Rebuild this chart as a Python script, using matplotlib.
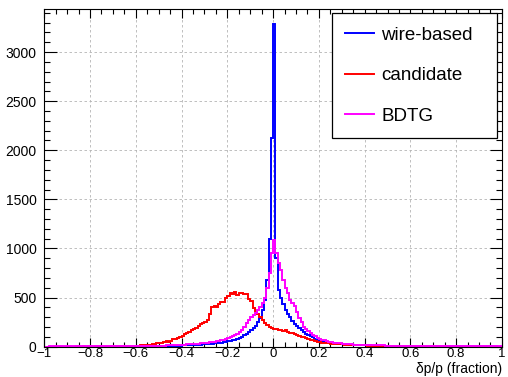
import numpy as np
import matplotlib
matplotlib.use("Agg")
from matplotlib import pyplot as plt
from matplotlib.ticker import MultipleLocator, FuncFormatter

plt.rcParams['font.family'] = ['Liberation Sans', 'DejaVu Sans']

# 200 bins from -1 to 1 (width 0.01)
edges = np.linspace(-1, 1, 201)

wire_based = [
    0, 0, 0, 0, 0, 0, 0, 0, 0, 0,
    0, 0, 0, 0, 0, 0, 0, 0, 0, 0,
    0, 1, 0, 0, 0, 1, 0, 0, 1, 0,
    1, 0, 1, 1, 0, 1, 1, 2, 1, 2,
    2, 2, 3, 2, 3, 3, 4, 3, 4, 5,
    5, 6, 6, 7, 8, 8, 9, 10, 11, 12,
    13, 14, 15, 16, 17, 18, 19, 21, 22, 24,
    25, 27, 29, 31, 33, 36, 39, 42, 46, 50,
    55, 60, 66, 72, 80, 90, 100, 115, 130, 150,
    170, 190, 215, 250, 290, 375, 475, 680, 1100, 2120,
    3290, 900, 580, 500, 430, 375, 330, 300, 260, 235,
    210, 190, 170, 150, 130, 115, 105, 95, 80, 70,
    62, 56, 52, 48, 44, 40, 38, 35, 32, 30,
    28, 26, 24, 22, 21, 20, 18, 17, 16, 15,
    14, 13, 13, 12, 11, 11, 10, 10, 9, 9,
    9, 8, 8, 8, 7, 7, 7, 6, 6, 6,
    6, 5, 6, 5, 5, 5, 4, 5, 4, 4,
    4, 4, 4, 3, 4, 3, 3, 3, 3, 3,
    3, 3, 3, 2, 3, 2, 3, 2, 2, 2,
    2, 2, 2, 2, 1, 2, 1, 2, 1, 1,
]

candidate = [
    0, 0, 1, 0, 0, 1, 0, 1, 1, 0,
    1, 1, 0, 1, 2, 1, 1, 2, 1, 2,
    2, 1, 3, 2, 2, 3, 2, 4, 3, 3,
    4, 3, 5, 4, 6, 5, 7, 6, 8, 9,
    10, 12, 14, 13, 17, 20, 22, 25, 30, 35,
    40, 38, 48, 55, 52, 62, 75, 82, 90, 100,
    110, 125, 140, 150, 165, 180, 195, 210, 228, 245,
    255, 275, 330, 400, 410, 405, 430, 455, 450, 500,
    520, 545, 540, 555, 525, 545, 550, 540, 535, 490,
    470, 390, 360, 330, 300, 270, 245, 225, 205, 195,
    185, 180, 175, 170, 160, 165, 150, 140, 135, 125,
    120, 110, 100, 95, 85, 80, 70, 65, 60, 50,
    45, 42, 40, 36, 35, 32, 30, 28, 27, 25,
    24, 22, 20, 21, 18, 17, 16, 15, 15, 14,
    13, 12, 12, 11, 10, 10, 9, 9, 8, 8,
    8, 7, 7, 6, 6, 6, 5, 5, 5, 4,
    4, 4, 4, 3, 3, 3, 3, 3, 2, 2,
    2, 2, 2, 2, 1, 2, 1, 1, 1, 1,
    1, 1, 1, 1, 1, 0, 1, 1, 0, 1,
    0, 1, 0, 0, 1, 0, 0, 1, 0, 0,
]

bdtg = [
    1, 1, 2, 1, 2, 1, 2, 2, 1, 2,
    2, 2, 1, 2, 2, 3, 2, 2, 3, 2,
    3, 2, 3, 3, 2, 3, 3, 3, 4, 3,
    3, 4, 4, 3, 4, 5, 4, 5, 5, 6,
    6, 7, 6, 7, 8, 8, 9, 9, 10, 10,
    11, 12, 12, 13, 14, 15, 16, 17, 18, 20,
    21, 22, 24, 25, 27, 28, 30, 32, 35, 37,
    40, 42, 45, 48, 52, 56, 60, 66, 72, 80,
    88, 96, 105, 115, 130, 150, 175, 205, 240, 275,
    300, 320, 340, 370, 400, 440, 500, 600, 750, 950,
    1085, 950, 850, 780, 680, 600, 545, 475, 440, 410,
    350, 290, 250, 205, 180, 155, 135, 115, 105, 90,
    80, 70, 64, 58, 52, 46, 42, 38, 35, 33,
    30, 28, 27, 25, 24, 22, 21, 20, 19, 18,
    17, 17, 16, 15, 15, 14, 14, 13, 13, 12,
    12, 11, 11, 11, 10, 10, 10, 9, 9, 9,
    9, 8, 8, 8, 8, 7, 7, 7, 7, 7,
    6, 6, 6, 6, 6, 5, 6, 5, 5, 5,
    5, 5, 5, 5, 4, 5, 4, 4, 4, 4,
    4, 4, 4, 3, 4, 3, 3, 3, 3, 3,
]

fig = plt.figure(figsize=(5.08, 3.77), dpi=100)
ax = fig.add_axes([0.0872, 0.0804, 0.988 - 0.0872, 0.9753 - 0.0804])

ax.stairs(wire_based, edges, color='#0000ff', lw=1.4, label='wire-based')
ax.stairs(candidate, edges, color='#ff0000', lw=1.4, label='candidate')
ax.stairs(bdtg, edges, color='#ff00ff', lw=1.4, label='BDTG')

ax.set_xlim(-1, 1)
ax.set_ylim(0, 3435)

ax.xaxis.set_major_locator(MultipleLocator(0.2))
ax.xaxis.set_minor_locator(MultipleLocator(0.05))
ax.yaxis.set_major_locator(MultipleLocator(500))
ax.yaxis.set_minor_locator(MultipleLocator(100))
ax.xaxis.set_major_formatter(FuncFormatter(lambda v, p: ('%g' % round(v, 2)).replace('-', '\u2212')))

ax.tick_params(which='both', direction='in', top=True, right=True, width=0.8)
ax.tick_params(axis='x', which='major', length=6.5, pad=1, labelsize=9.5)
ax.tick_params(axis='x', which='minor', length=3.5)
ax.tick_params(axis='y', which='major', length=9, pad=5.5, labelsize=10)
ax.tick_params(axis='y', which='minor', length=4.5)

ax.grid(True, which='major', color='#b4b4b4', lw=0.6, linestyle=(0, (3, 3)))
ax.set_axisbelow(True)

# legend box spans roughly x 0.625-0.987, top at 0.991 (axes fraction)
leg = ax.legend(loc='upper left', bbox_to_anchor=(0.628, 0.0, 0.362, 0.988),
                mode='expand', fontsize=13.5,
                frameon=True, fancybox=False, framealpha=1, edgecolor='black',
                handlelength=1.55, handletextpad=0.4, labelspacing=1.25,
                borderpad=0.7, borderaxespad=0)
leg.get_frame().set_linewidth(0.9)
for line in leg.get_lines():
    line.set_linewidth(1.4)

fig.text(0.989, 0.021, '\u03b4p/p (fraction)', ha='right', va='center', fontsize=10)

fig.savefig('out.png', dpi=100)
